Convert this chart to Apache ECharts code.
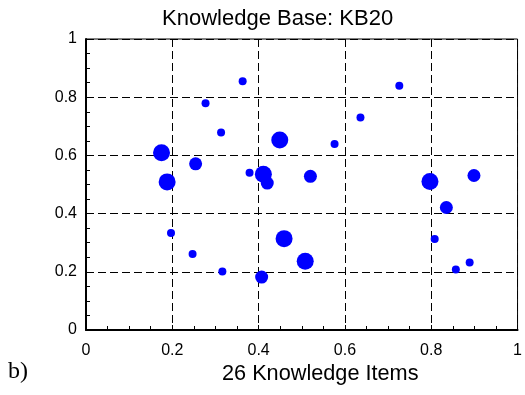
<!DOCTYPE html>
<html>
<head>
<meta charset="utf-8">
<script src="https://cdn.jsdelivr.net/npm/echarts@6/dist/echarts.min.js"></script>
<style>
  html, body { margin: 0; padding: 0; background: #fff; }
  #chart { width: 525px; height: 395px; }
</style>
</head>
<body>
<div id="chart"></div>
<script>
// Knowledge items: position (x, y) and relative weight (1 small, 2 medium, 3 large)
const itemX = [0.363, 0.277, 0.313, 0.449, 0.175, 0.254, 0.379, 0.411, 0.420, 0.188,
               0.520, 0.726, 0.636, 0.576, 0.797, 0.899, 0.197, 0.247, 0.316, 0.407,
               0.459, 0.508, 0.835, 0.808, 0.857, 0.889];
const itemY = [0.855, 0.779, 0.679, 0.653, 0.609, 0.571, 0.540, 0.535, 0.505, 0.509,
               0.528, 0.839, 0.730, 0.639, 0.510, 0.531, 0.333, 0.261, 0.201, 0.182,
               0.314, 0.236, 0.421, 0.313, 0.208, 0.232];
const itemWeight = [1, 1, 1, 3, 3, 2, 1, 3, 2, 3,
                    2, 1, 1, 1, 3, 2, 1, 1, 1, 2,
                    3, 3, 2, 1, 1, 1];
const tickLabels = ['0', '0.2', '0.4', '0.6', '0.8', '1'];

const chartTitle = 'Knowledge Base: KB20';
const xTitle = '26 Knowledge Items';
const panelTag = 'b)';

const points = itemX.map((x, i) => [x, itemY[i], itemWeight[i]]);
const weightToSize = { 1: 8, 2: 13, 3: 17 };

const fmt = v => {
  const idx = Math.round(v / 0.2);
  return tickLabels[idx] !== undefined ? tickLabels[idx] : '';
};

const sans = 'Liberation Sans, Arial, Helvetica, sans-serif';

const axisCommon = {
  min: 0, max: 1, interval: 0.2,
  axisLine: { show: true, lineStyle: { color: '#000', width: 2 } },
  axisTick: { show: true, inside: true, length: 5, lineStyle: { color: '#000', width: 1 } },
  minorTick: { show: true, splitNumber: 4, length: 4, lineStyle: { color: '#000', width: 1 } },
  splitLine: { show: true, lineStyle: { color: '#000', type: [8, 4], width: 1 } },
  axisLabel: { color: '#000', fontFamily: sans, fontSize: 16, formatter: fmt }
};

const chart = echarts.init(document.getElementById('chart'), null, { renderer: 'canvas' });
chart.setOption({
  animation: false,
  backgroundColor: '#fff',
  graphic: [
    { type: 'text', left: 162, top: 8, silent: true,
      style: { text: chartTitle, font: '22px ' + sans, fill: '#000' } },
    { type: 'text', left: 222, top: 363, silent: true,
      style: { text: xTitle, font: '21.7px ' + sans, fill: '#000' } },
    { type: 'text', left: 8, top: 360, silent: true,
      style: { text: panelTag, font: '24px Liberation Serif, Times New Roman, serif', fill: '#000' } }
  ],
  grid: {
    left: 86, right: 3, top: 39, bottom: 65,
    show: true, borderColor: '#000', borderWidth: 1, backgroundColor: 'transparent'
  },
  xAxis: Object.assign({ type: 'value' }, axisCommon, {
    axisLabel: Object.assign({}, axisCommon.axisLabel, { margin: 13 })
  }),
  yAxis: Object.assign({ type: 'value' }, axisCommon, {
    axisLabel: Object.assign({}, axisCommon.axisLabel, { margin: 9 })
  }),
  series: [{
    type: 'scatter',
    data: points,
    symbol: 'circle',
    symbolSize: d => weightToSize[d[2]],
    itemStyle: { color: '#0000ff', opacity: 1 },
    emphasis: { disabled: true }
  }]
});
</script>
</body>
</html>
